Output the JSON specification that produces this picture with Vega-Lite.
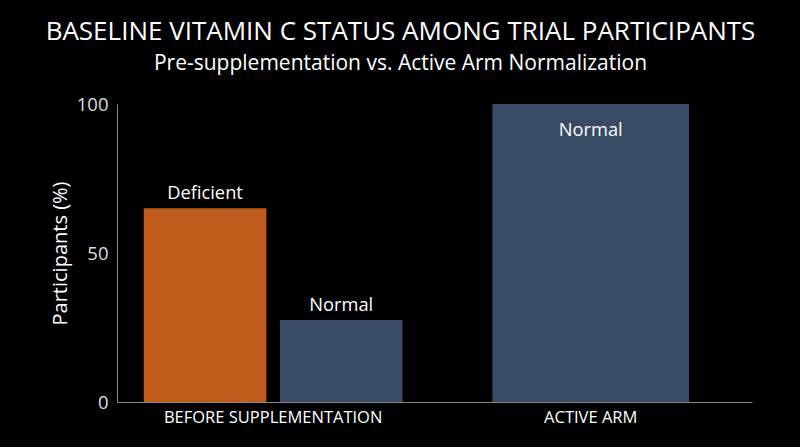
{
  "$schema": "https://vega.github.io/schema/vega-lite/v6.json",
  "width": 635,
  "height": 298,
  "autosize": {"type": "none"},
  "padding": {"left": 117, "top": 104, "right": 48, "bottom": 45},
  "background": "#000000",
  "config": {
    "font": "Open Sans",
    "view": {"stroke": null}
  },
  "title": {
    "text": "BASELINE VITAMIN C STATUS AMONG TRIAL PARTICIPANTS",
    "subtitle": "Pre-supplementation vs. Active Arm Normalization",
    "anchor": "middle",
    "dx": -34,
    "offset": 21,
    "font": "Open Sans",
    "fontSize": 26,
    "fontWeight": "normal",
    "color": "#ffffff",
    "subtitleFont": "Open Sans",
    "subtitleFontSize": 21,
    "subtitleColor": "#ffffff",
    "subtitlePadding": 8
  },
  "data": {
    "values": [
      {"group": "BEFORE SUPPLEMENTATION", "status": "Deficient", "value": 65},
      {"group": "BEFORE SUPPLEMENTATION", "status": "Normal", "value": 27.5},
      {"group": "ACTIVE ARM", "status": "Normal", "value": 100}
    ]
  },
  "encoding": {
    "x": {
      "field": "group",
      "type": "nominal",
      "sort": ["BEFORE SUPPLEMENTATION", "ACTIVE ARM"],
      "scale": {"paddingInner": 0.185, "paddingOuter": 0.0923, "align": 0.456},
      "axis": {
        "title": null,
        "labelAngle": 0,
        "labelColor": "#ffffff",
        "labelFontSize": 16.5,
        "labelPadding": 7,
        "labelLimit": 0,
        "ticks": false,
        "domainColor": "#888888",
        "domainWidth": 1
      }
    },
    "y": {
      "field": "value",
      "type": "quantitative",
      "scale": {"domain": [0, 100], "nice": false},
      "axis": {
        "title": "Participants (%)",
        "titleColor": "#ffffff",
        "titleFontSize": 20,
        "titleFontWeight": "normal",
        "titlePadding": 6,
        "values": [0, 50, 100],
        "labelColor": "#dddddd",
        "labelFontSize": 18.5,
        "labelPadding": 9,
        "ticks": false,
        "grid": false,
        "domainColor": "#888888",
        "domainWidth": 1
      }
    }
  },
  "layer": [
    {
      "transform": [{"filter": "datum.group === 'BEFORE SUPPLEMENTATION'"}],
      "mark": {"type": "bar"},
      "encoding": {
        "xOffset": {"field": "status", "type": "nominal", "scale": {"domain": ["Deficient", "Normal"], "paddingInner": 0.1, "paddingOuter": 0}},
        "color": {"field": "status", "type": "nominal", "scale": {"domain": ["Deficient", "Normal"], "range": ["#BE5B1D", "#394A65"]}, "legend": null}
      }
    },
    {
      "transform": [{"filter": "datum.group === 'ACTIVE ARM'"}],
      "mark": {"type": "bar", "width": {"band": 0.76}},
      "encoding": {
        "color": {"field": "status", "type": "nominal", "legend": null}
      }
    },
    {
      "transform": [{"filter": "datum.group === 'BEFORE SUPPLEMENTATION'"}],
      "mark": {"type": "text", "baseline": "alphabetic", "dy": -9.5, "fontSize": 18.3, "color": "#ffffff"},
      "encoding": {
        "xOffset": {"field": "status", "type": "nominal"},
        "text": {"field": "status"}
      }
    },
    {
      "transform": [{"filter": "datum.group === 'ACTIVE ARM'"}],
      "mark": {"type": "text", "baseline": "alphabetic", "dy": 31.5, "fontSize": 18.3, "color": "#ffffff"},
      "encoding": {
        "text": {"field": "status"}
      }
    }
  ]
}
